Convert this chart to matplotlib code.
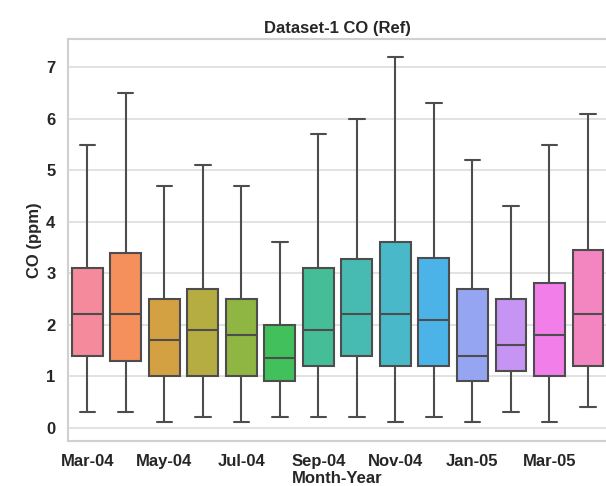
import matplotlib
matplotlib.use("Agg")
import matplotlib.pyplot as plt
import seaborn as sns

months = ["Mar-04", "Apr-04", "May-04", "Jun-04", "Jul-04", "Aug-04", "Sep-04",
          "Oct-04", "Nov-04", "Dec-04", "Jan-05", "Feb-05", "Mar-05", "Apr-05"]
whisker_low = [0.3, 0.3, 0.1, 0.2, 0.1, 0.2, 0.2, 0.2, 0.1, 0.2, 0.1, 0.3, 0.1, 0.4]
q1 = [1.4, 1.3, 1.0, 1.0, 1.0, 0.9, 1.2, 1.4, 1.2, 1.2, 0.9, 1.1, 1.0, 1.2]
median = [2.2, 2.2, 1.7, 1.9, 1.8, 1.35, 1.9, 2.2, 2.2, 2.1, 1.4, 1.6, 1.8, 2.2]
q3 = [3.1, 3.4, 2.5, 2.7, 2.5, 2.0, 3.1, 3.27, 3.6, 3.3, 2.7, 2.5, 2.8, 3.45]
whisker_high = [5.5, 6.5, 4.7, 5.1, 4.7, 3.6, 5.7, 6.0, 7.2, 6.3, 5.2, 4.3, 5.5, 6.1]
yticks = [0, 1, 2, 3, 4, 5, 6, 7]

sns.set_theme(style="whitegrid")
plt.rcParams["font.family"] = ["Liberation Sans", "DejaVu Sans"]

fig = plt.figure(figsize=(6.06, 4.86), dpi=100)
ax = fig.add_axes([68 / 606, 1 - 441 / 486, 1 - 68 / 606 + 0.002, (441 - 39) / 486])

stats = []
for i, m in enumerate(months):
    stats.append(dict(label=m, whislo=whisker_low[i], q1=q1[i], med=median[i],
                      q3=q3[i], whishi=whisker_high[i], fliers=[]))

palette = sns.husl_palette(len(months), h=0.01, s=0.85, l=0.7)
edge = "#4d4d4d"
lw = 1.5
bp = ax.bxp(stats, positions=range(len(months)), widths=0.8, patch_artist=True,
            showfliers=False,
            boxprops=dict(edgecolor=edge, linewidth=lw),
            medianprops=dict(color=edge, linewidth=lw),
            whiskerprops=dict(color=edge, linewidth=lw),
            capprops=dict(color=edge, linewidth=lw))
for patch, c in zip(bp["boxes"], palette):
    patch.set_facecolor(c)

ax.set_xlim(-0.5, len(months) - 0.5)
ax.set_ylim(-0.26, 7.55)
ax.set_yticks(yticks)
ax.set_yticklabels([str(t) for t in yticks], fontsize=12, fontweight="bold")
ax.set_xticks(range(0, len(months), 2))
ax.set_xticklabels(months[::2], fontsize=12, fontweight="bold")
ax.tick_params(axis="y", pad=9, length=0)
ax.tick_params(axis="x", pad=9, length=0)
ax.grid(axis="x", visible=False)
ax.grid(axis="y", color="#dddddd", linewidth=1.2)
for s in ax.spines.values():
    s.set_color("#d0d0d0")
    s.set_linewidth(1.5)

ax.set_title("Dataset-1 CO (Ref)", fontsize=12, fontweight="bold", pad=4)
ax.set_xlabel("Month-Year", fontsize=12, fontweight="bold", labelpad=1.5)
ax.set_ylabel("CO (ppm)", fontsize=12, fontweight="bold", labelpad=3)

fig.savefig("out.png", dpi=100)
